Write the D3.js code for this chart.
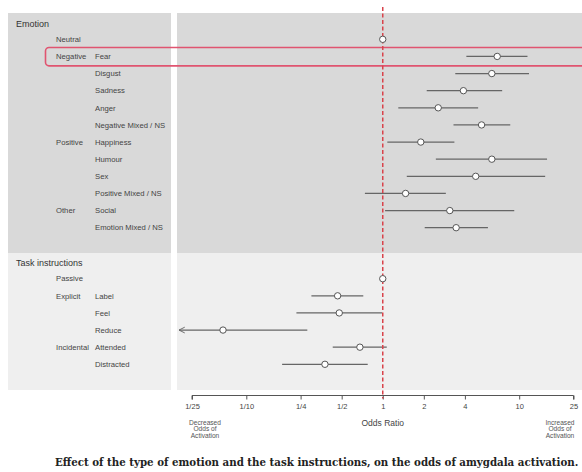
<!DOCTYPE html>
<html>
<head>
<meta charset="utf-8">
<script src="https://cdn.jsdelivr.net/npm/d3@7"></script>
<style>
  body { margin: 0; background: #fff; }
  svg { display: block; font-family: "Liberation Sans", Arial, sans-serif; }
</style>
</head>
<body>
<svg id="chart" width="582" height="472"></svg>
<script>
// emotion section
const emotionGroup = ["Neutral", "Negative", "", "", "", "", "Positive", "", "", "", "Other", ""];
const emotionItem = ["", "Fear", "Disgust", "Sadness", "Anger", "Negative Mixed / NS",
    "Happiness", "Humour", "Sex", "Positive Mixed / NS", "Social", "Emotion Mixed / NS"];
const emotionOR = [1, 6.9, 6.3, 3.9, 2.55, 5.3, 1.9, 6.3, 4.8, 1.47, 3.1, 3.45];
const emotionLo = [1, 4.1, 3.4, 2.1, 1.3, 3.3, 1.08, 2.45, 1.5, 0.74, 1.04, 2.03];
const emotionHi = [1, 11.5, 11.8, 7.5, 5.0, 8.6, 3.35, 16, 15.5, 2.9, 9.2, 5.9];

// task instructions section
const taskGroup = ["Passive", "Explicit", "", "", "Incidental", ""];
const taskItem = ["", "Label", "Feel", "Reduce", "Attended", "Distracted"];
const taskOR = [1, 0.467, 0.48, 0.0675, 0.68, 0.377];
const taskLo = [1, 0.30, 0.233, 0.01, 0.43, 0.183];
const taskHi = [1, 0.72, 0.99, 0.28, 1.07, 0.776];

const tickValues = [1 / 25, 1 / 10, 1 / 4, 1 / 2, 1, 2, 4, 10, 25];
const tickLabels = ["1/25", "1/10", "1/4", "1/2", "1", "2", "4", "10", "25"];

const svg = d3.select("#chart");

const x = d3.scaleLog().domain([1 / 25, 25]).range([192, 573.5]);
const panelLeft = 177;
const axisY = 395.5;

function rows(group, item, or, lo, hi) {
    return group.map((g, i) => ({ group: g, item: item[i], or: or[i], lo: lo[i], hi: hi[i], key: i }));
}
const emotionData = rows(emotionGroup, emotionItem, emotionOR, emotionLo, emotionHi);
const taskData = rows(taskGroup, taskItem, taskOR, taskLo, taskHi);

const yEmotion = d3.scalePoint().domain(emotionData.map(d => d.key)).range([39.3, 227.7]);
const yTask = d3.scalePoint().domain(taskData.map(d => d.key)).range([278.7, 364.3]);

// background panels
svg.append("rect").attr("x", 8).attr("y", 13).attr("width", 163).attr("height", 240).attr("fill", "#d9d9d9");
svg.append("rect").attr("x", panelLeft).attr("y", 13).attr("width", 420).attr("height", 240).attr("fill", "#d9d9d9");
svg.append("rect").attr("x", 8).attr("y", 253).attr("width", 163).attr("height", 137).attr("fill", "#efefef");
svg.append("rect").attr("x", panelLeft).attr("y", 253).attr("width", 420).attr("height", 137).attr("fill", "#efefef");

// arrow marker for truncated intervals
svg.append("defs").append("marker")
    .attr("id", "arrow")
    .attr("viewBox", "0 0 10 10")
    .attr("refX", 1).attr("refY", 5)
    .attr("markerWidth", 6).attr("markerHeight", 6)
    .attr("orient", "auto")
    .append("path")
    .attr("d", "M9,1 L1,5 L9,9")
    .attr("fill", "none")
    .attr("stroke", "#666")
    .attr("stroke-width", 1.3);

// section headers
svg.append("text").attr("x", 16).attr("y", 24).attr("dy", "0.35em")
    .attr("font-size", 9).attr("fill", "#333").text("Emotion");
svg.append("text").attr("x", 16).attr("y", 263.3).attr("dy", "0.35em")
    .attr("font-size", 9).attr("fill", "#333").text("Task instructions");

function drawSection(data, y) {
    const g = svg.append("g");
    g.selectAll(".grp").data(data.filter(d => d.group)).enter().append("text")
        .attr("x", 56).attr("y", d => y(d.key)).attr("dy", "0.35em")
        .attr("font-size", 7.7).attr("fill", "#444").text(d => d.group);
    g.selectAll(".itm").data(data.filter(d => d.item)).enter().append("text")
        .attr("x", 95).attr("y", d => y(d.key)).attr("dy", "0.35em")
        .attr("font-size", 7.7).attr("fill", "#444").text(d => d.item);

    g.selectAll(".ci").data(data.filter(d => d.hi > d.lo)).enter().append("line")
        .attr("x1", d => d.lo < x.domain()[0] ? panelLeft + 2 : x(d.lo))
        .attr("x2", d => x(d.hi))
        .attr("y1", d => y(d.key)).attr("y2", d => y(d.key))
        .attr("stroke", "#666").attr("stroke-width", 1.2)
        .attr("marker-start", d => d.lo < x.domain()[0] ? "url(#arrow)" : null);
}
drawSection(emotionData, yEmotion);
drawSection(taskData, yTask);

// red highlight box around Fear
svg.append("rect")
    .attr("x", 45.5).attr("y", yEmotion(1) - 9).attr("width", 560).attr("height", 18.4)
    .attr("rx", 3.5)
    .attr("fill", "none").attr("stroke", "#e05470").attr("stroke-width", 1.6);

// x axis
const axis = svg.append("g")
    .attr("transform", `translate(0,${axisY})`)
    .call(d3.axisBottom(x).tickValues(tickValues).tickFormat((d, i) => tickLabels[i]).tickSize(4).tickPadding(4.5));
axis.select(".domain").attr("stroke", "#555").attr("d", `M${x.range()[0]},4V0H${x.range()[1]}V4`);
axis.selectAll(".tick line").attr("stroke", "#555");
axis.selectAll(".tick text").attr("font-size", 7.5).attr("fill", "#444")
    .attr("font-family", "'Liberation Sans', Arial, sans-serif");

// reference line at OR = 1
svg.append("line")
    .attr("x1", x(1)).attr("x2", x(1)).attr("y1", 7).attr("y2", axisY + 3)
    .attr("stroke", "#d9434b").attr("stroke-width", 1.5).attr("stroke-dasharray", "4,2.5");

// points
function drawPoints(data, y) {
    svg.append("g").selectAll("circle").data(data).enter().append("circle")
        .attr("cx", d => x(d.or)).attr("cy", d => y(d.key)).attr("r", 3.2)
        .attr("fill", "#fff").attr("stroke", "#555").attr("stroke-width", 1);
}
drawPoints(emotionData, yEmotion);
drawPoints(taskData, yTask);

// axis labels
svg.append("text").attr("x", x(1)).attr("y", 423).attr("dy", "0.35em")
    .attr("text-anchor", "middle").attr("font-size", 8.5).attr("fill", "#444").text("Odds Ratio");

function sideNote(cx, lines) {
    const t = svg.append("text").attr("text-anchor", "middle").attr("font-size", 6.6).attr("fill", "#555");
    lines.forEach((l, i) => t.append("tspan").attr("x", cx).attr("y", 424.5 + i * 6.6).text(l));
}
sideNote(205, ["Decreased", "Odds of", "Activation"]);
sideNote(560, ["Increased", "Odds of", "Activation"]);

// caption
const cap = svg.append("text")
    .attr("x", 55).attr("y", 466)
    .attr("font-family", "'DejaVu Serif', 'Liberation Serif', serif")
    .attr("font-weight", "bold").attr("font-size", 10).attr("fill", "#222")
    .text("Effect of the type of emotion and the task instructions, on the odds of amygdala activation.");
const w = cap.node().getComputedTextLength();
cap.attr("font-size", 10 * 524 / w);
</script>
</body>
</html>
